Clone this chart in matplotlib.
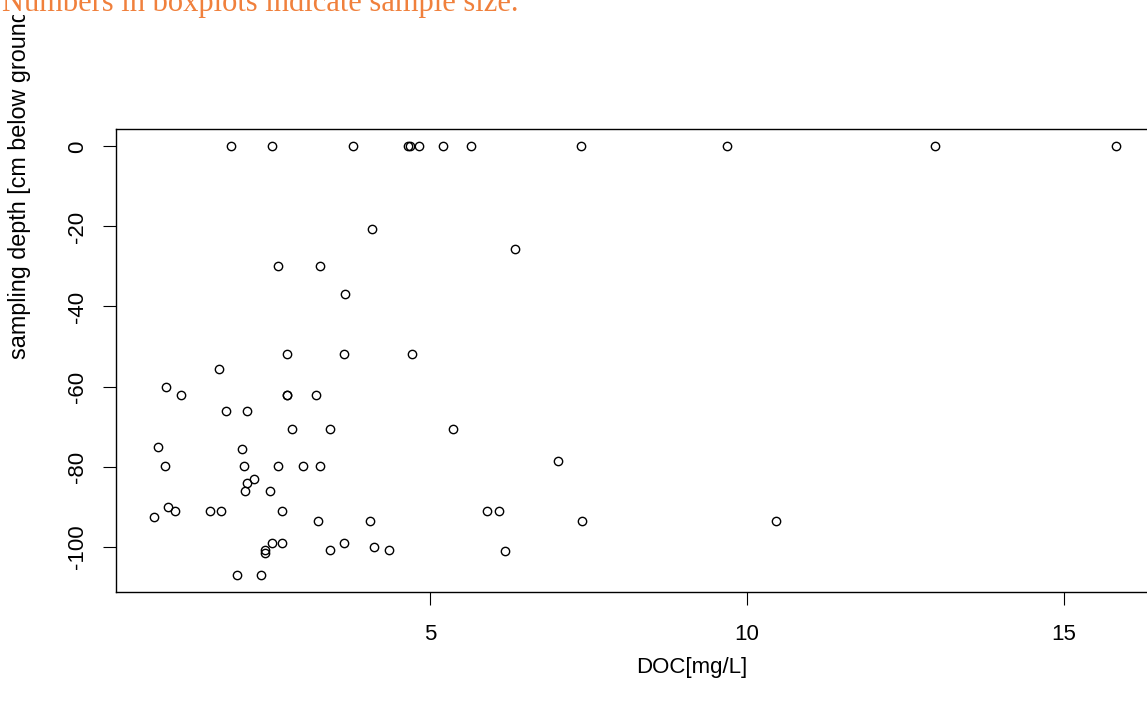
import numpy as np
import matplotlib
matplotlib.use("Agg")
import matplotlib.pyplot as plt
from matplotlib.transforms import Bbox, TransformedBbox

# DOC concentration [mg/L] and sampling depth [cm]
doc = [
    1.85, 2.49, 3.77, 4.64, 4.67, 4.82, 5.20, 5.64, 7.37, 9.69, 12.97, 15.82,
    4.07, 6.33, 2.59, 3.25, 3.65,
    2.73, 3.63, 4.71, 1.66,
    0.83, 1.06, 2.73, 2.73, 3.19, 1.77, 2.10,
    2.82, 3.42, 5.36, 0.70, 2.03,
    0.81, 2.05, 2.59, 2.98, 3.25, 7.01,
    2.22, 2.10, 2.07, 2.47,
    0.85, 0.97, 0.64, 1.52, 1.69, 2.66, 5.90, 6.08,
    3.23, 4.04, 7.40, 10.45,
    2.49, 2.66, 3.63, 2.38, 2.38, 3.42, 4.11, 4.35, 6.17,
    1.94, 2.33,
]
depth = [
    0, 0, 0, 0, 0, 0, 0, 0, 0, 0, 0, 0,
    -20.6, -25.7, -30, -30, -37,
    -52, -52, -52, -55.5,
    -60, -62.2, -62.2, -62.2, -62.2, -66.2, -66.2,
    -70.7, -70.7, -70.7, -75, -75.7,
    -79.8, -79.8, -79.8, -79.8, -79.8, -78.7,
    -83.1, -84.2, -86, -86,
    -90, -91.1, -92.5, -91.1, -91.1, -91.1, -91.1, -91.1,
    -93.7, -93.7, -93.7, -93.6,
    -99.2, -99.2, -99.2, -100.9, -101.7, -100.9, -100.2, -100.9, -101,
    -107, -107,
]
x_ticks = [5, 10, 15]
y_ticks = [0, -20, -40, -60, -80, -100]

W, H = 1147, 709
fig = plt.figure(figsize=(W / 100, H / 100), dpi=100)

# plot box reaches past the right edge, like the cropped original
top, bottom = 129.3, 591.7
ax = fig.add_axes([116 / W, 1 - bottom / H, (1154 - 116) / W, (bottom - top) / H])
ax.plot(doc, depth, linestyle="none", marker="o", markersize=6,
        markerfacecolor="none", markeredgecolor="black", markeredgewidth=1.0)

# R style 4% padding
def r_lim(v):
    lo, hi = min(v), max(v)
    pad = 0.04 * (hi - lo)
    return lo - pad, hi + pad

ax.set_xlim(*r_lim(doc))
ax.set_ylim(*r_lim(depth))

ax.set_xticks(x_ticks)
ax.set_yticks(y_ticks)
ax.set_yticklabels([str(t) for t in y_ticks], rotation=90, va="center",
                   fontsize=17.5)
ax.tick_params(length=9.5, width=0.8, pad=14, labelsize=16)
ax.tick_params(axis="y", pad=10.5)
for lab in ax.get_xticklabels() + ax.get_yticklabels():
    lab.set_family("Liberation Sans")
for s in ax.spines.values():
    s.set_linewidth(1.0)

fig.text(692 / W, 1 - 667 / H, "DOC[mg/L]", ha="center", va="center",
         fontsize=16, family="Liberation Sans")

# y label is clipped by the panel region just below the orange note
ylab = fig.text(20 / W, 1 - 359 / H, "sampling depth [cm below ground]",
                rotation=90, ha="center", va="bottom", fontsize=16.8,
                family="Liberation Sans")
ylab.set_clip_box(TransformedBbox(Bbox([[0, 0], [1, 1 - 15 / H]]),
                                  fig.transFigure))
ylab.set_clip_on(True)

fig.text(2 / W, 1 - 11 / H, "Numbers in boxplots indicate sample size.",
         ha="left", va="baseline", fontsize=22, family="Liberation Serif",
         color="#f0803c")

fig.savefig("out.png", dpi=100)
